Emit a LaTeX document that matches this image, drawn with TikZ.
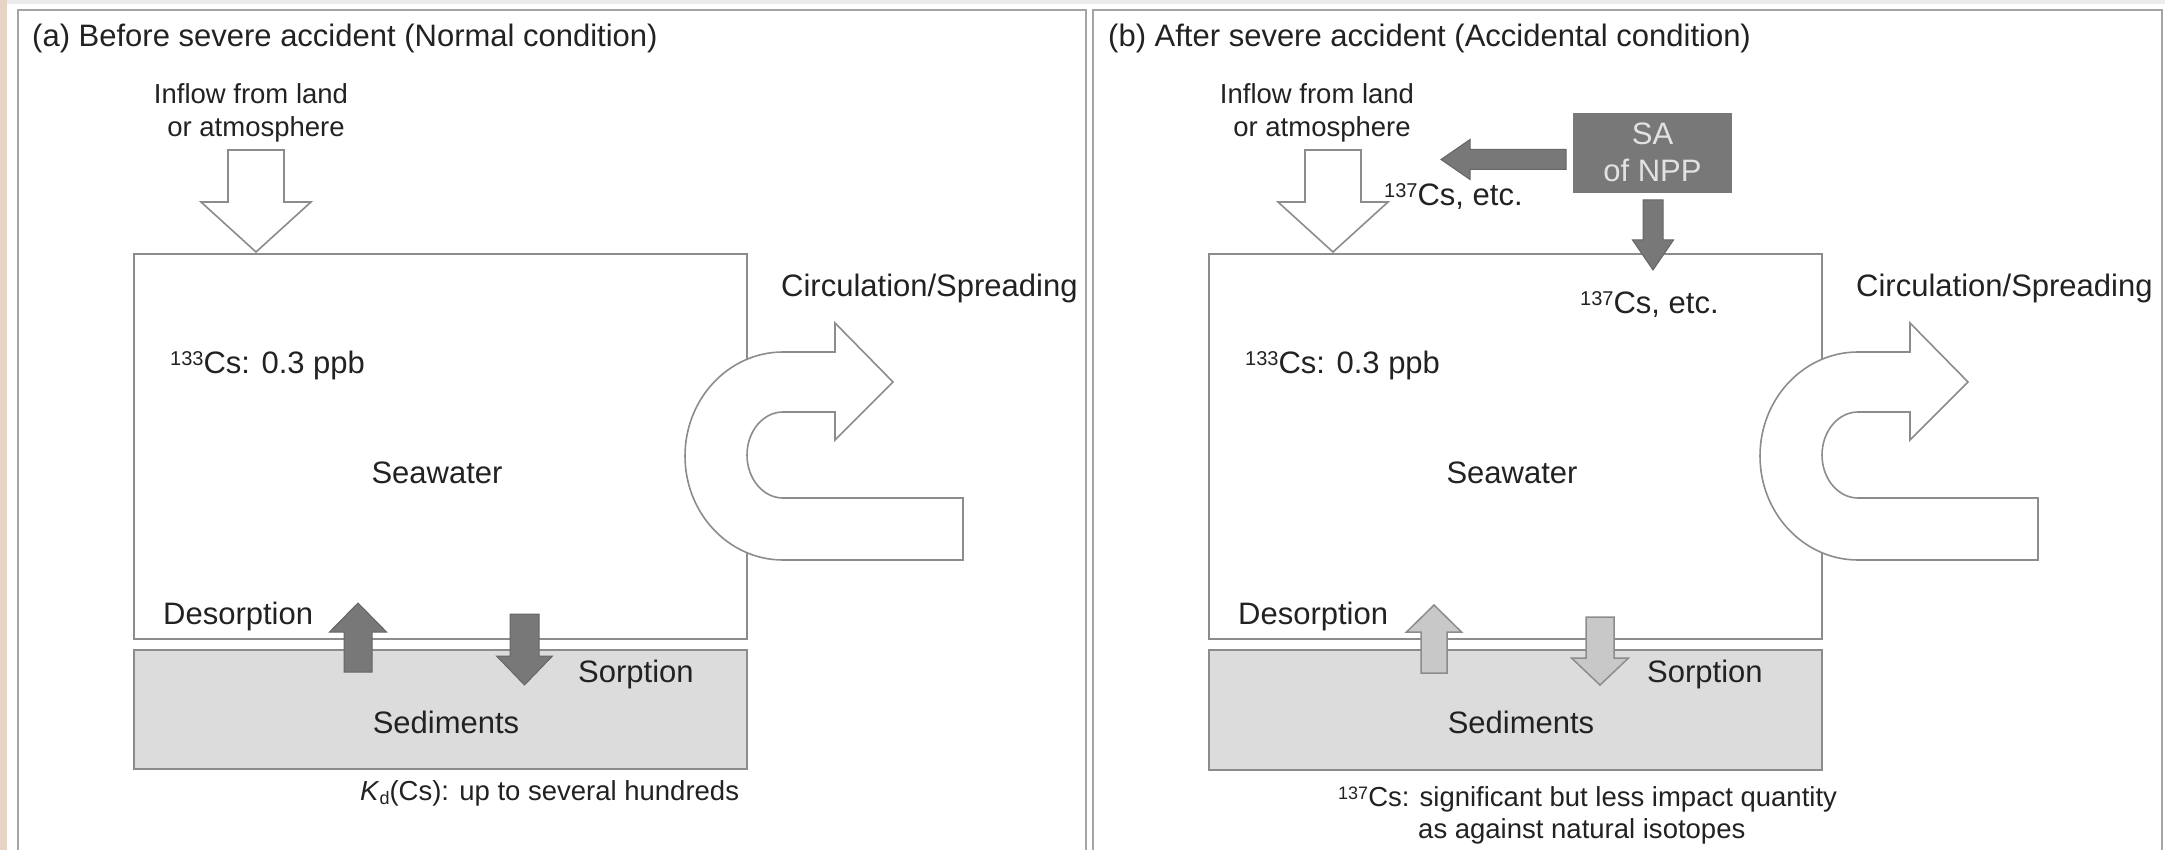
\documentclass[tikz,border=0pt]{standalone}
\usepackage{fontspec}
\setmainfont{Liberation Sans}
\definecolor{txt}{HTML}{222222}
\definecolor{framec}{HTML}{A4A4A4}
\definecolor{boxline}{HTML}{8C8C8C}
\definecolor{sedfill}{HTML}{DCDCDC}
\definecolor{darkarrow}{HTML}{787878}
\definecolor{lightarrow}{HTML}{C8C8C8}
\definecolor{beige}{HTML}{E6D5C5}
\definecolor{topband}{HTML}{ECECEC}
\definecolor{satext}{HTML}{E2E2E2}
\newcommand\supx[1]{\raisebox{8pt}{\fontsize{20}{20}\selectfont #1}}
\newcommand\supy[1]{\raisebox{7pt}{\fontsize{18}{18}\selectfont #1}}
% vertical block arrow: cx, ytail, yshoulder, ytip, shaft half, head half, style
\newcommand\blockv[7]{\draw[#7] ({#1-#5},#2) -- ({#1+#5},#2) -- ({#1+#5},#3) -- ({#1+#6},#3) -- (#1,#4) -- ({#1-#6},#3) -- ({#1-#5},#3) -- cycle;}
% horizontal block arrow: cy, xtail, xshoulder, xtip, shaft half, head half, style
\newcommand\blockh[7]{\draw[#7] (#2,{#1-#5}) -- (#2,{#1+#5}) -- (#3,{#1+#5}) -- (#3,{#1+#6}) -- (#4,#1) -- (#3,{#1-#6}) -- (#3,{#1-#5}) -- cycle;}
% U-shaped circulation arrow, x offset
\newcommand\uarrow[1]{\draw[hollow] ({#1+963},498) -- ({#1+783},498) arc[start angle=90,end angle=270,x radius=36,y radius=43] -- ({#1+835},412) -- ({#1+835},440) -- ({#1+893},382) -- ({#1+835},323) -- ({#1+835},352) -- ({#1+783},352) arc[start angle=270,end angle=90,x radius=98,y radius=104] -- ({#1+963},560) -- cycle;}
\tikzset{
  panelframe/.style={draw=framec, line width=2.5pt},
  seabox/.style={draw=boxline, line width=2pt, fill=white, inner sep=0pt, anchor=north west},
  sedbox/.style={draw=boxline, line width=2pt, fill=sedfill, inner sep=0pt, anchor=north west},
  sabox/.style={fill=darkarrow, inner sep=0pt},
  hollow/.style={draw=boxline, line width=1.6pt, fill=white},
  darkblk/.style={draw=darkarrow!85!black, line width=1pt, fill=darkarrow},
  lightblk/.style={draw=boxline, line width=1.5pt, fill=lightarrow},
  lbl/.style={inner sep=0pt, text=txt, font=\fontsize{31}{37}\selectfont},
  small/.style={inner sep=0pt, text=txt, font=\fontsize{27.5}{33}\selectfont},
  salbl/.style={inner sep=0pt, text=satext, font=\fontsize{31}{37}\selectfont},
}
\begin{document}
\begin{tikzpicture}[x=1pt,y=-1pt]
\useasboundingbox (0,0) rectangle (2165,850);
\fill[white] (0,0) rectangle (2165,850);
\fill[topband] (0,0) rectangle (2165,4);
\fill[beige] (0,0) rectangle (7,850);
% panel frames
\draw[panelframe] (18,851) -- (18,10) -- (1086,10) -- (1086,851);
\draw[panelframe] (1093,851) -- (1093,10) -- (2162,10) -- (2162,851);

% ================= panel (a) =================
\node[lbl, anchor=base west] (titleA) at (32,47) {(a) Before severe accident (Normal condition)};
\node[seabox, minimum width=613pt, minimum height=385pt] (seaA) at (133,253) {};
\node[sedbox, minimum width=613pt, minimum height=119pt] (sedA) at (133,649) {};
\node[small, anchor=base] (inA1) at (251,104) {Inflow from land};
\node[small, anchor=base] (inA2) at (256,137) {or atmosphere};
\blockv{256}{150}{202}{252}{28}{55}{hollow}
\uarrow{0}
\node[lbl, anchor=base west] (circA) at (781,297) {Circulation/Spreading};
\node[lbl, anchor=base west] (csA) at (170,373) {\supx{133}Cs: 0.3 ppb};
\node[lbl, anchor=base] (swA) at (437,483) {Seawater};
\node[lbl, anchor=base west] (desA) at (163,624) {Desorption};
\blockv{358}{672}{632}{603}{14}{28.5}{darkblk}
\blockv{524.5}{614}{656}{685}{14.5}{28}{darkblk}
\node[lbl, anchor=base west] (sorA) at (578,682) {Sorption};
\node[lbl, anchor=base] (sdA) at (446,733) {Sediments};
\node[small, anchor=base west] (kdA) at (360,800) {\textit{K}\raisebox{-4pt}{\fontsize{18}{18}\selectfont d}(Cs): up to several hundreds};

% ================= panel (b) =================
\node[lbl, anchor=base west] (titleB) at (1108,47) {(b) After severe accident (Accidental condition)};
\node[seabox, minimum width=613pt, minimum height=385pt] (seaB) at (1208,253) {};
\node[sedbox, minimum width=613pt, minimum height=120pt] (sedB) at (1208,649) {};
\node[small, anchor=base] (inB1) at (1317,104) {Inflow from land};
\node[small, anchor=base] (inB2) at (1322,137) {or atmosphere};
\blockv{1333}{150}{202}{252}{28}{55}{hollow}
\node[sabox, minimum width=159pt, minimum height=80pt] (sa) at (1652.5,153) {};
\node[salbl, anchor=base] (saT1) at (sa.center |- 0,145) {SA};
\node[salbl, anchor=base] (saT2) at (sa.center |- 0,182) {of NPP};
\blockh{159.5}{1566}{1470}{1441}{10}{20}{darkblk}
\blockv{1653}{200}{240}{270}{10}{20.5}{darkblk}
\node[lbl, anchor=base west] (csB1) at (1384,206) {\supx{137}Cs, etc.};
\node[lbl, anchor=base west] (csB2) at (1580,313) {\supx{137}Cs, etc.};
\uarrow{1075}
\node[lbl, anchor=base west] (circB) at (1856,297) {Circulation/Spreading};
\node[lbl, anchor=base west] (csB) at (1245,373) {\supx{133}Cs: 0.3 ppb};
\node[lbl, anchor=base] (swB) at (1512,483) {Seawater};
\node[lbl, anchor=base west] (desB) at (1238,624) {Desorption};
\blockv{1434}{673}{632}{605}{13}{27.5}{lightblk}
\blockv{1600}{617}{658}{685}{14}{28.5}{lightblk}
\node[lbl, anchor=base west] (sorB) at (1647,682) {Sorption};
\node[lbl, anchor=base] (sdB) at (1521,733) {Sediments};
\node[small, anchor=base west] (ntB1) at (1338,806) {\supy{137}Cs: significant but less impact quantity};
\node[small, anchor=base west] (ntB2) at (1418,838) {as against natural isotopes};
\end{tikzpicture}
\end{document}
